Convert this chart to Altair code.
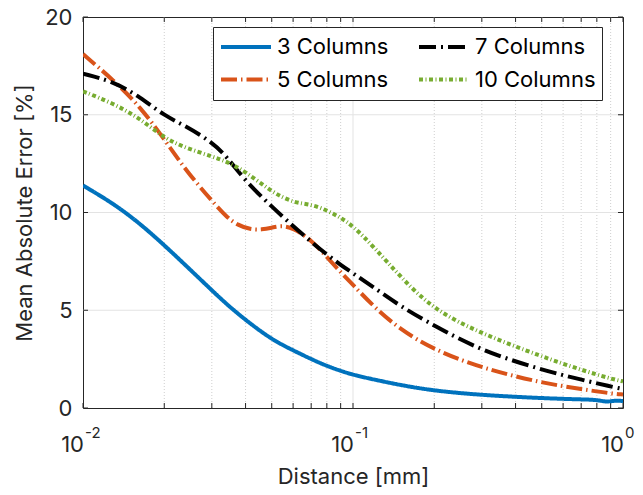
import altair as alt
import pandas as pd

FONT = "Inter"
TXT = "#262626"

# ---------------- data ----------------
series_names = ["3 Columns", "5 Columns", "7 Columns", "10 Columns"]
series_colors = ["#0072BD", "#D95319", "#000000", "#77AC30"]
series_dashes = [[1, 0], [16, 4, 1.5, 4], [17, 5, 2, 5], [4, 2.5, 1, 2.5]]

x3 = [0.01, 0.013, 0.0163, 0.02, 0.0242, 0.03, 0.0341, 0.04, 0.05, 0.06, 0.07,
      0.08, 0.09, 0.1, 0.12, 0.15, 0.2, 0.3, 0.5, 0.7, 0.8, 0.87, 0.92, 1.0]
y3 = [11.38, 10.45, 9.42, 8.33, 7.25, 6.02, 5.30, 4.50, 3.50, 2.95, 2.50,
      2.15, 1.90, 1.70, 1.45, 1.17, 0.88, 0.66, 0.50, 0.44, 0.42, 0.30, 0.38, 0.36]

x5 = [0.01, 0.013, 0.0163, 0.02, 0.0242, 0.03, 0.0341, 0.0375, 0.0416, 0.046,
      0.05, 0.054, 0.06, 0.07, 0.08, 0.09, 0.1, 0.12, 0.15, 0.2, 0.3, 0.5, 0.7, 0.9, 1.0]
y5 = [18.1, 16.76, 15.4, 13.75, 12.1, 10.6, 9.75, 9.35, 9.13, 9.12,
      9.22, 9.33, 9.22, 8.6, 7.72, 6.95, 6.3, 5.15, 4.0, 2.97, 2.04, 1.28, 0.97, 0.74, 0.69]

x_common = [0.01, 0.013, 0.0163, 0.02, 0.0242, 0.03, 0.0341, 0.04, 0.05, 0.06,
            0.07, 0.08, 0.09, 0.1, 0.12, 0.15, 0.2, 0.3, 0.5, 0.7, 0.9, 1.0]
y7 = [17.1, 16.7, 15.9, 14.95, 14.4, 13.6, 12.85, 11.6, 10.3, 9.3,
      8.5, 7.85, 7.32, 6.89, 6.15, 5.2, 4.2, 2.92, 1.95, 1.45, 1.1, 0.97]
y10 = [16.2, 15.57, 14.8, 13.8, 13.29, 12.87, 12.6, 12.1, 11.05, 10.5,
       10.42, 10.11, 9.74, 9.31, 8.21, 6.7, 5.0, 3.8, 2.63, 1.95, 1.5, 1.36]

x_major = [0.01, 0.1, 1.0]
x_major_exp = ["-2", "-1", "0"]
x_minor = [0.02, 0.03, 0.04, 0.05, 0.06, 0.07, 0.08, 0.09,
           0.2, 0.3, 0.4, 0.5, 0.6, 0.7, 0.8, 0.9]
x_grid_major = [0.1]
y_ticks = [0, 5, 10, 15, 20]
y_grid = [5, 10, 15]

rows = []
for name, xs, ys in [("3 Columns", x3, y3), ("5 Columns", x5, y5),
                     ("7 Columns", x_common, y7), ("10 Columns", x_common, y10)]:
    for xv, yv in zip(xs, ys):
        rows.append({"series": name, "x": xv, "y": yv})
df = pd.DataFrame(rows)

W, H = 540, 391

xscale = alt.Scale(type="log", domain=[0.01, 1], nice=False)
yscale = alt.Scale(domain=[0, 20], nice=False)

x_axis = alt.Axis(values=x_major, labels=False, ticks=False, grid=False, domain=False,
                  title="Distance [mm]", titleFont=FONT, titleFontSize=22,
                  titleFontWeight="normal", titleColor=TXT,
                  titleY=75, titleBaseline="alphabetic")
y_axis = alt.Axis(values=y_ticks, grid=False, ticks=False, domain=False,
                  labelFont=FONT, labelFontSize=22, labelColor=TXT, labelPadding=11,
                  title="Mean Absolute Error [%]", titleFont=FONT, titleFontSize=22,
                  titleFontWeight="normal", titleColor=TXT, titlePadding=8)

X = alt.X("x:Q", scale=xscale, axis=x_axis)
Y = alt.Y("y:Q", scale=yscale, axis=y_axis)

minor_df = pd.DataFrame({"x": x_minor})
majgrid_df = pd.DataFrame({"x": x_grid_major})
allx_df = pd.DataFrame({"x": x_major + x_minor})
ygrid_df = pd.DataFrame({"y": y_grid})
ytick_df = pd.DataFrame({"y": y_ticks})
lab_df = pd.DataFrame({"x": x_major, "base": ["10"] * 3, "exp": x_major_exp})

grid_minor = alt.Chart(minor_df).mark_rule(color="#cfcfcf", strokeDash=[1, 2], strokeWidth=1).encode(
    x=X, y=alt.value(0), y2=alt.value(H))
grid_major = alt.Chart(majgrid_df).mark_rule(color="#e3e3e3", strokeWidth=1).encode(
    x=X, y=alt.value(0), y2=alt.value(H))
grid_y = alt.Chart(ygrid_df).mark_rule(color="#e3e3e3", strokeWidth=1).encode(
    y=Y, x=alt.value(0), x2=alt.value(W))

tick_b = alt.Chart(allx_df).mark_rule(color=TXT, strokeWidth=1).encode(
    x=X, y=alt.value(H), y2=alt.value(H - 5))
tick_t = alt.Chart(allx_df).mark_rule(color=TXT, strokeWidth=1).encode(
    x=X, y=alt.value(0), y2=alt.value(5))
tick_l = alt.Chart(ytick_df).mark_rule(color=TXT, strokeWidth=1).encode(
    y=Y, x=alt.value(0), x2=alt.value(5))
tick_r = alt.Chart(ytick_df).mark_rule(color=TXT, strokeWidth=1).encode(
    y=Y, x=alt.value(W), x2=alt.value(W - 5))

lab_base = alt.Chart(lab_df).mark_text(align="right", baseline="alphabetic", dx=1,
                                       font=FONT, fontSize=22, color=TXT).encode(
    x=X, y=alt.value(H + 44), text="base:N")
lab_exp = alt.Chart(lab_df).mark_text(align="left", baseline="alphabetic", dx=2,
                                      font=FONT, fontSize=15, color=TXT).encode(
    x=X, y=alt.value(H + 30), text="exp:N")

leg = alt.Legend(title=None, orient="none", legendX=130, legendY=10, columns=2,
                 symbolType="stroke", symbolSize=2500, symbolStrokeWidth=4,
                 clipHeight=28,
                 labelFont=FONT, labelFontSize=22, labelColor="#000000", labelOffset=4,
                 labelLimit=0, columnPadding=28, rowPadding=4.5, padding=6,
                 strokeColor=TXT, fillColor="white")

lines = alt.Chart(df).mark_line(strokeWidth=4, interpolate="basis", clip=True).encode(
    x=X, y=Y,
    color=alt.Color("series:N", scale=alt.Scale(domain=series_names, range=series_colors), legend=leg),
    strokeDash=alt.StrokeDash("series:N", scale=alt.Scale(domain=series_names, range=series_dashes), legend=leg),
    order=alt.Order("x:Q"),
)

chart = alt.layer(grid_minor, grid_major, grid_y, tick_b, tick_t, tick_l, tick_r,
                  lines, lab_base, lab_exp).properties(
    width=W, height=H,
    autosize=alt.AutoSizeParams(type="none"),
    padding={"left": 75, "top": 9, "right": 12, "bottom": 79},
    background="white",
).configure_view(stroke=TXT, strokeWidth=1)

chart.save("out.html", embed_options={"renderer": "svg", "actions": False})
